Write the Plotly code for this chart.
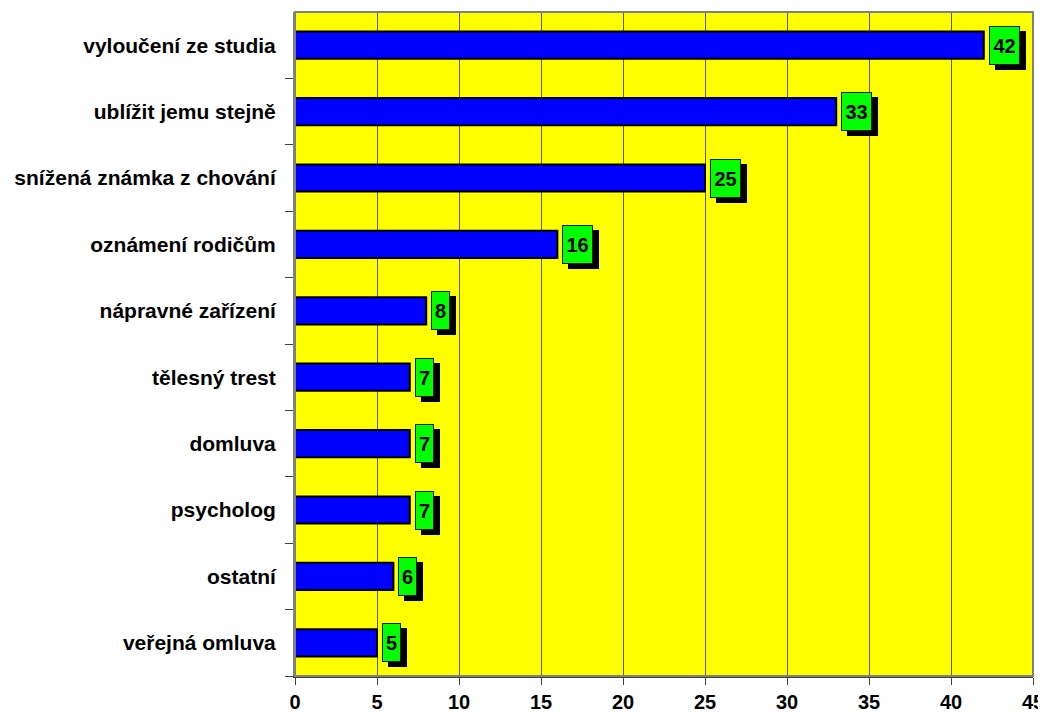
import plotly.graph_objects as go

categories = ["vyloučení ze studia", "ublížit jemu stejně", "snížená známka z chování",
              "oznámení rodičům", "nápravné zařízení", "tělesný trest", "domluva",
              "psycholog", "ostatní", "veřejná omluva"]
values = [42, 33, 25, 16, 8, 7, 7, 7, 6, 5]
x_ticks = [0, 5, 10, 15, 20, 25, 30, 35, 40, 45]

FONT = "Liberation Sans, Arial, sans-serif"

fig = go.Figure()
fig.add_trace(go.Bar(
    x=values, y=categories, orientation="h",
    marker=dict(color="#0000FF", line=dict(color="#000000", width=2)),
    width=0.41, hoverinfo="skip",
))

annotations = []
for c, v in zip(categories, values):
    w = 27 if v >= 10 else 15
    # shadow
    annotations.append(dict(
        x=v, y=c, xref="x", yref="y", text=" ", showarrow=False,
        xanchor="left", yanchor="middle", xshift=11, yshift=-5,
        width=w, height=35, bgcolor="#000000", bordercolor="#000000",
        borderwidth=1, borderpad=1, font=dict(family=FONT, size=20),
    ))
    # label box
    annotations.append(dict(
        x=v, y=c, xref="x", yref="y", text="<b>%d</b>" % v, showarrow=False,
        xanchor="left", yanchor="middle", xshift=5, yshift=0,
        width=w, height=35, bgcolor="#00FF00", bordercolor="#202000",
        borderwidth=1, borderpad=1, align="center",
        font=dict(family=FONT, size=20, color="#000000"),
    ))

fig.update_layout(
    width=1046, height=709,
    margin=dict(l=287, r=21, t=4, b=41, autoexpand=False),
    paper_bgcolor="#FFFFFF", plot_bgcolor="#FFFF00",
    showlegend=False, bargap=0.59,
    annotations=annotations,
    font=dict(family=FONT, color="#000000"),
    xaxis=dict(
        range=[0, 45], tickvals=x_ticks, ticktext=["<b>%d</b>" % t for t in x_ticks],
        showgrid=True, gridcolor="#5A5A00", gridwidth=1,
        showline=True, linecolor="#404040", linewidth=2, mirror=False,
        ticks="outside", ticklen=7, tickcolor="#404040", tickwidth=1,
        tickfont=dict(family=FONT, size=20, color="#000000"),
        zeroline=False, fixedrange=True, automargin=False,
    ),
    yaxis=dict(
        categoryorder="array", categoryarray=categories[::-1],
        ticktext=["<b>%s</b>" % c for c in categories], tickvals=categories,
        showgrid=False, showline=True, linecolor="#808080", linewidth=2,
        ticks="outside", ticklen=8, tickcolor="#404040", tickwidth=1,
        tickson="boundaries",
        tickfont=dict(family=FONT, size=21, color="#000000"),
        ticklabelstandoff=13,
        zeroline=False, fixedrange=True, automargin=False,
    ),
    shapes=[dict(type="rect", xref="paper", yref="paper", x0=0, x1=1, y0=0, y1=1,
                 line=dict(color="#808080", width=2), fillcolor="rgba(0,0,0,0)", layer="above")],
)

fig.write_html("out.html")
